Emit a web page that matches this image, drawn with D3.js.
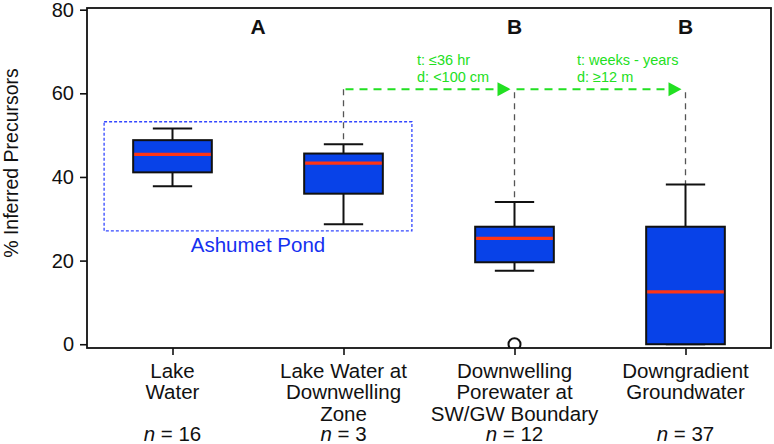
<!DOCTYPE html>
<html><head><meta charset="utf-8">
<script src="https://cdn.jsdelivr.net/npm/d3@7"></script>
<style>body{margin:0;background:#fff} svg{display:block;font-family:"Liberation Sans",Arial,Helvetica,sans-serif}</style>
</head><body><svg id="c" width="774" height="444"></svg>
<script>
// ---- data ----
const categories = ["Lake Water", "Lake Water at Downwelling Zone", "Downwelling Porewater at SW/GW Boundary", "Downgradient Groundwater"];
const categoryLines = [["Lake", "Water"], ["Lake Water at", "Downwelling", "Zone"], ["Downwelling", "Porewater at", "SW/GW Boundary"], ["Downgradient", "Groundwater"]];
const sampleCounts = [16, 3, 12, 37];
const whiskerLow = [37.8, 28.7, 17.6, 0];
const q1 = [41.1, 36.0, 19.6, 0];
const medians = [45.4, 43.3, 25.3, 12.5];
const q3 = [48.8, 45.6, 28.1, 28.1];
const whiskerHigh = [51.6, 47.8, 34.0, 38.2];
const outliers = [[], [], [0], []];
const groupLetters = ["A", "B", "B"];
const groupLetterPos = [1.5, 3, 4];
const yTicks = [0, 20, 40, 60, 80];
const transitionFrom = [2, 3];
const transitionTo = [3, 4];
const transitionTime = ["t: ≤36 hr", "t: weeks - years"];
const transitionDist = ["d: <100 cm", "d: ≥12 m"];
const transitionTextPos = [2.43, 3.365];
const transitionLevel = 61;
const pondX = [0.6, 2.4];
const pondY = [27.1, 53.2];
const pondLabel = "Ashumet Pond";
const yLabel = "% Inferred Precursors";

// ---- layout ----
const svg = d3.select("#c");
const L = 87, R = 771, T = 8, B = 348;
const x = d3.scaleLinear().domain([0.5, 4.5]).range([L, R]);
const y = d3.scaleLinear().domain([-0.9, 80.4]).range([B, T]);
const boxW = x(0.46) - x(0);
const capW = x(0.23) - x(0);
const green = "#22e022";

svg.append("defs").append("clipPath").attr("id", "clip")
  .append("rect").attr("x", L).attr("y", T).attr("width", R - L).attr("height", B - T);

// y axis
const yAxis = svg.append("g").attr("transform", `translate(${L},0)`)
  .call(d3.axisLeft(y).tickValues(yTicks).tickSize(7).tickPadding(6));
yAxis.select(".domain").remove();
yAxis.selectAll("line").attr("stroke", "#111").attr("stroke-width", 1.6);
yAxis.selectAll("text").attr("font-size", 20).attr("fill", "#111")
  .attr("font-family", "Liberation Sans, Arial, sans-serif");

// x axis
const xAxis = svg.append("g").attr("transform", `translate(0,${B})`)
  .call(d3.axisBottom(x).tickValues([1, 2, 3, 4]).tickSize(7).tickFormat(""));
xAxis.select(".domain").remove();
xAxis.selectAll("line").attr("stroke", "#111").attr("stroke-width", 1.6);

// category labels
categoryLines.forEach((lines, i) => {
  const t = svg.append("text").attr("x", x(i + 1)).attr("text-anchor", "middle")
    .attr("font-size", 20.5).attr("fill", "#111");
  lines.forEach((ln, j) => {
    t.append("tspan").attr("x", x(i + 1)).attr("y", 378 + j * 21.3).text(ln);
  });
  const n = svg.append("text").attr("x", x(i + 1)).attr("y", 440.5)
    .attr("text-anchor", "middle").attr("font-size", 20.5).attr("fill", "#111");
  n.append("tspan").attr("font-style", "italic").text("n");
  n.append("tspan").text(" = " + sampleCounts[i]);
});

// y label
svg.append("text").attr("transform", `translate(18,${163}) rotate(-90)`)
  .attr("text-anchor", "middle").attr("font-size", 19.5).attr("fill", "#111").text(yLabel);

// Ashumet Pond box
svg.append("rect").attr("x", x(pondX[0])).attr("y", y(pondY[1]))
  .attr("width", x(pondX[1]) - x(pondX[0])).attr("height", y(pondY[0]) - y(pondY[1]))
  .attr("fill", "none").attr("stroke", "#3347ff").attr("stroke-width", 1.3).attr("stroke-dasharray", "3,2");
svg.append("text").attr("x", (x(pondX[0]) + x(pondX[1])) / 2).attr("y", y(pondY[0]) + 21)
  .attr("text-anchor", "middle").attr("font-size", 20.5).attr("fill", "#1530f0").text(pondLabel);

// gray dashed connectors
const plot = svg.append("g").attr("clip-path", "url(#clip)");
[1, 2, 3].forEach(i => {
  plot.append("line").attr("x1", x(i + 1)).attr("x2", x(i + 1))
    .attr("y1", y(transitionLevel) + (i === 1 ? 0 : 3)).attr("y2", y(whiskerHigh[i]))
    .attr("stroke", "#555").attr("stroke-width", 1.3).attr("stroke-dasharray", "6,5");
});

// boxes
categories.forEach((c, i) => {
  const cx = x(i + 1);
  const g = plot.append("g");
  g.append("line").attr("x1", cx).attr("x2", cx).attr("y1", y(whiskerLow[i])).attr("y2", y(q1[i]))
    .attr("stroke", "#111").attr("stroke-width", 2);
  g.append("line").attr("x1", cx).attr("x2", cx).attr("y1", y(q3[i])).attr("y2", y(whiskerHigh[i]))
    .attr("stroke", "#111").attr("stroke-width", 2);
  [whiskerLow[i], whiskerHigh[i]].forEach(v => {
    g.append("line").attr("x1", cx - capW / 2).attr("x2", cx + capW / 2).attr("y1", y(v)).attr("y2", y(v))
      .attr("stroke", "#111").attr("stroke-width", 2);
  });
  g.append("rect").attr("x", cx - boxW / 2).attr("y", y(q3[i]))
    .attr("width", boxW).attr("height", y(q1[i]) - y(q3[i]))
    .attr("fill", "#0842e8").attr("stroke", "#111").attr("stroke-width", 2);
  g.append("line").attr("x1", cx - boxW / 2 + 1).attr("x2", cx + boxW / 2 - 1)
    .attr("y1", y(medians[i])).attr("y2", y(medians[i]))
    .attr("stroke", "#ff3412").attr("stroke-width", 3.2);
  outliers[i].forEach(v => {
    g.append("circle").attr("cx", cx).attr("cy", y(v)).attr("r", 6)
      .attr("fill", "#fff").attr("stroke", "#111").attr("stroke-width", 2);
  });
});

// frame
svg.append("rect").attr("x", L).attr("y", T).attr("width", R - L).attr("height", B - T)
  .attr("fill", "none").attr("stroke", "#111").attr("stroke-width", 1.8);

// group letters
groupLetters.forEach((g, i) => {
  svg.append("text").attr("x", x(groupLetterPos[i])).attr("y", 34)
    .attr("text-anchor", "middle").attr("font-size", 21).attr("font-weight", "bold")
    .attr("fill", "#111").text(g);
});

// transition arrows
transitionFrom.forEach((f, i) => {
  const x0 = x(f) + 2, tip = x(transitionTo[i]) - 4, yy = y(transitionLevel);
  svg.append("line").attr("x1", x0).attr("x2", tip - 12).attr("y1", yy).attr("y2", yy)
    .attr("stroke", green).attr("stroke-width", 2).attr("stroke-dasharray", "8,6");
  svg.append("path").attr("d", `M${tip},${yy} L${tip - 13},${yy - 7} L${tip - 13},${yy + 7} Z`)
    .attr("fill", green);
  svg.append("text").attr("x", x(transitionTextPos[i])).attr("y", 65)
    .attr("font-size", 14.5).attr("fill", green).text(transitionTime[i]);
  svg.append("text").attr("x", x(transitionTextPos[i])).attr("y", 82)
    .attr("font-size", 14.5).attr("fill", green).text(transitionDist[i]);
});
</script>
</body></html>
